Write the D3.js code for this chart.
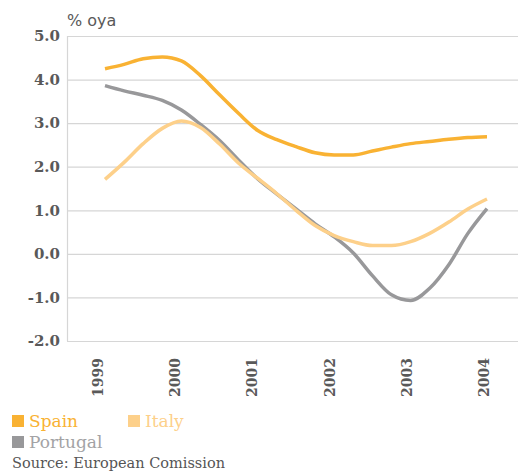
<!DOCTYPE html>
<html>
<head>
<meta charset="utf-8">
<script src="https://cdn.jsdelivr.net/npm/d3@7"></script>
<style>
  body { margin: 0; background: #fff; }
</style>
</head>
<body>
<script>
const width = 518;
const height = 472;

const margin = { left: 67, right: 0, top: 36, bottom: 131 };

// quarterly observations, decimal years
const quarters = [1999.0, 1999.25, 1999.5, 1999.75, 2000.0, 2000.25, 2000.5, 2000.75,
    2001.0, 2001.25, 2001.5, 2001.75, 2002.0, 2002.25, 2002.5, 2002.75,
    2003.0, 2003.25, 2003.5, 2003.75, 2004.0];

const spain = [4.25, 4.35, 4.48, 4.52, 4.43, 4.09, 3.65, 3.22, 2.83, 2.62, 2.46,
    2.32, 2.27, 2.27, 2.36, 2.45, 2.53, 2.58, 2.63, 2.67, 2.69];
const italy = [1.71, 2.10, 2.53, 2.88, 3.05, 2.90, 2.52, 2.08, 1.73, 1.38, 1.00,
    0.65, 0.42, 0.28, 0.19, 0.19, 0.28, 0.47, 0.73, 1.03, 1.26];
const portugal = [3.86, 3.74, 3.64, 3.52, 3.30, 2.97, 2.60, 2.15, 1.72, 1.37, 1.03,
    0.69, 0.39, 0.02, -0.50, -0.94, -1.07, -0.79, -0.25, 0.47, 1.04];

const years = [1999, 2000, 2001, 2002, 2003, 2004];
const yTicks = [-2, -1, 0, 1, 2, 3, 4, 5];

const series = [
    { name: "Spain", values: spain, color: "#f9b233", text: "#f9b233" },
    { name: "Italy", values: italy, color: "#fdd08a", text: "#fdd08a" },
    { name: "Portugal", values: portugal, color: "#98989a", text: "#a3a3a5" }
];

let svg = d3.select("body").append("svg")
    .attr("width", width)
    .attr("height", height);

let xScale = d3.scaleLinear()
    .domain([1999, 2004])
    .range([105, 487]);

let yScale = d3.scaleLinear()
    .domain([-2, 5])
    .range([height - margin.bottom, margin.top]);

// gridlines
svg.append("g")
    .selectAll("line")
    .data(yTicks)
    .join("line")
    .attr("x1", margin.left)
    .attr("x2", width)
    .attr("y1", d => yScale(d) + 0.5)
    .attr("y2", d => yScale(d) + 0.5)
    .attr("stroke", "#d6d6d6")
    .attr("stroke-width", 1.2);

svg.append("line")
    .attr("x1", margin.left + 0.5)
    .attr("x2", margin.left + 0.5)
    .attr("y1", yScale(5))
    .attr("y2", yScale(-2))
    .attr("stroke", "#d6d6d6")
    .attr("stroke-width", 1.2);

// y tick labels
svg.append("g")
    .selectAll("text")
    .data(yTicks)
    .join("text")
    .attr("x", 60)
    .attr("y", d => yScale(d))
    .attr("dy", "0.35em")
    .attr("text-anchor", "end")
    .style("font-family", "DejaVu Serif")
    .style("font-weight", "bold")
    .style("font-size", "15px")
    .attr("fill", "#595959")
    .text(d => d.toFixed(1));

svg.append("text")
    .attr("x", 67)
    .attr("y", 26)
    .style("font-family", "DejaVu Sans")
    .style("font-size", "16px")
    .attr("fill", "#595959")
    .text("% oya");

// x labels, rotated
svg.append("g")
    .selectAll("text")
    .data(years)
    .join("text")
    .attr("transform", d => `translate(${xScale(d) - 7 + (d - 1999) * 0.8}, 358) rotate(-90)`)
    .attr("dy", "0.35em")
    .attr("text-anchor", "end")
    .style("font-family", "DejaVu Serif")
    .style("font-weight", "bold")
    .style("font-size", "14px")
    .attr("fill", "#595959")
    .text(d => d);

// lines
let line = d3.line()
    .x((d, i) => xScale(quarters[i]))
    .y(d => yScale(d))
    .curve(d3.curveMonotoneX);

svg.append("g")
    .selectAll("path")
    .data([series[2], series[1], series[0]])
    .join("path")
    .attr("d", d => line(d.values))
    .attr("fill", "none")
    .attr("stroke", d => d.color)
    .attr("stroke-width", 3.5)
    .attr("stroke-linejoin", "round");

// legend
const legendPos = [[12, 421], [128, 421], [12, 442]];
let legend = svg.append("g")
    .selectAll("g")
    .data(series)
    .join("g")
    .attr("transform", (d, i) => `translate(${legendPos[i][0]}, ${legendPos[i][1]})`);

legend.append("rect")
    .attr("x", 0)
    .attr("y", -6)
    .attr("width", 12)
    .attr("height", 12)
    .attr("fill", d => d.color);

legend.append("text")
    .attr("x", 17)
    .attr("y", 0)
    .attr("dy", "0.35em")
    .style("font-family", "DejaVu Serif")
    .style("font-size", "17px")
    .attr("fill", d => d.text)
    .text(d => d.name);

svg.append("text")
    .attr("x", 12)
    .attr("y", 468)
    .style("font-family", "DejaVu Serif")
    .style("font-size", "14.5px")
    .attr("fill", "#555")
    .text("Source: European Comission");
</script>
</body>
</html>
